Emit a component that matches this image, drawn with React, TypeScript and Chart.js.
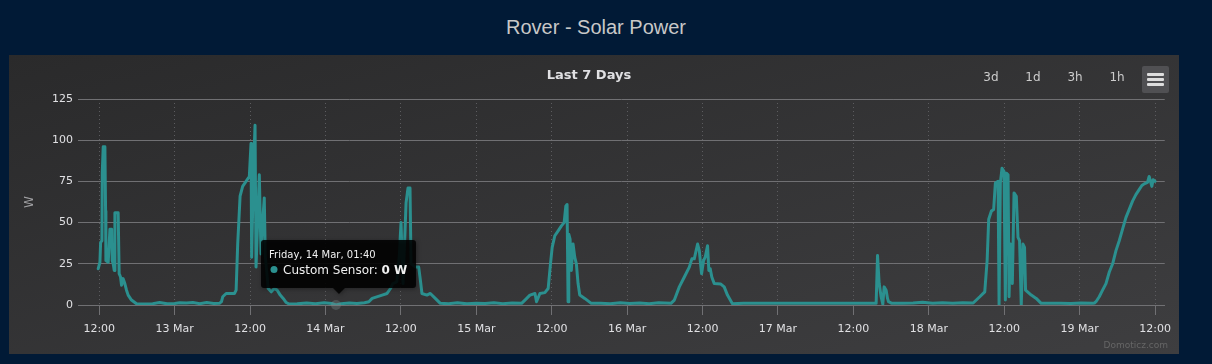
import React, { useEffect, useRef } from "react";
import { Chart, registerables } from "chart.js";

Chart.register(...registerables);

const pageTitle = "Rover - Solar Power";
const chartTitle = "Last 7 Days";
const seriesName = "Custom Sensor";
const unit = "W";
const rangeButtons = ["3d", "1d", "3h", "1h"];
const credits = "Domoticz.com";

// y axis
const yMin = 0;
const yMax = 125;
const yStep = 25;

// x axis: hours since 12 Mar 00:00
const xMin = 8.62;
const xMax = 181.54;
const xTickHours = [12, 24, 36, 48, 60, 72, 84, 96, 108, 120, 132, 144, 156, 168, 180];
const xTickLabels = [
  "12:00", "13 Mar", "12:00", "14 Mar", "12:00", "15 Mar", "12:00", "16 Mar",
  "12:00", "17 Mar", "12:00", "18 Mar", "12:00", "19 Mar", "12:00",
];

// hovered point shown in the tooltip
const hoverTime = 49.67;
const hoverLabel = "Friday, 14 Mar, 01:40";

// series: time (hours since 12 Mar 00:00) and power (W)
const timeHours = [
  // 12 Mar
  11.84, 12.11, 12.22, 12.43, 12.48, 12.63, 12.9, 13.01, 13.06, 13.43,
  13.7, 13.97, 14.06, 14.22, 14.38, 14.49, 15.01, 15.17, 15.39, 15.55,
  15.8, 16.07, 16.34, 16.6, 17.13, 17.93,
  19.0, 20.5, 21.6, 22.8, 24.0, 24.8, 25.9, 26.9, 28.0, 29.1, 30.2, 31.13,
  // 13 Mar
  31.45, 31.65, 32.19, 33.51, 33.78, 34.03, 34.41, 34.82, 35.36, 35.88,
  36.15, 36.25, 36.41, 36.57, 36.79, 36.95, 37.2, 37.47, 37.74, 37.99,
  38.26, 38.42, 38.66, 38.89, 39.37, 39.85, 40.32, 40.8, 41.27, 41.75,
  42.22,
  43.5, 45.0, 46.4, 47.8, 49.0, 49.67, 50.5, 51.8, 53.0, 54.2,
  // 14 Mar
  54.9, 55.43, 57.01, 57.8, 58.34, 58.71, 59.34, 59.74, 60.02, 60.18,
  60.34, 60.61, 60.82, 61.13, 61.45, 61.61, 62.31, 62.83, 63.1, 63.35,
  64.14, 64.68, 65.47, 66.27,
  67.6, 69.0, 70.5, 72.0, 73.4, 74.8, 76.2, 77.7, 79.2,
  // 15 Mar
  79.74, 80.53, 81.33, 81.58, 82.12, 82.91, 83.43, 83.8, 84.07, 84.49,
  85.02, 85.54, 85.97, 86.24, 86.44, 86.6, 86.71, 86.92, 87.12, 87.39,
  87.66, 87.92, 88.19, 88.46, 89.25, 90.29,
  91.8, 93.3, 94.9, 96.4, 98.0, 99.5, 101.0, 102.97,
  // 16 Mar
  103.51, 104.3, 105.1, 105.89, 106.3, 106.68, 107.21, 107.48, 107.84, 108.16,
  108.42, 108.79, 109.0, 109.22, 109.47, 109.85, 110.9, 111.44, 111.96, 112.75,
  114.5, 116.5, 118.5, 120.5, 122.5, 124.5, 126.5, 128.5, 130.5, 132.5, 134.5, 135.62,
  // 17 Mar
  135.73, 135.84, 136.1, 136.41, 136.68, 136.89, 137.21, 137.43, 137.59, 138.12,
  139.8, 141.5, 143.0, 144.6, 146.2, 147.8, 149.4, 151.06,
  // 18 Mar
  152.11, 152.9, 153.28, 153.53, 153.96, 154.32, 154.59, 155.02, 155.18, 155.38,
  155.65, 155.97, 156.18, 156.34, 156.61, 156.77, 156.97, 157.29, 157.56, 157.92,
  158.19, 158.44, 158.71, 158.98, 159.23, 159.39, 160.3, 161.09, 161.88,
  163.5, 165.0, 166.6, 168.2, 170.08,
  // 19 Mar
  170.35, 170.6, 171.12, 171.65, 172.19, 172.72, 173.25, 173.78, 174.3, 174.83,
  175.36, 175.89, 176.42, 176.95, 177.47, 177.9, 178.27, 178.8, 179.06, 179.49,
  179.69, 180.0,
];

const watts = [
  // 12 Mar
  22, 26, 38, 39, 80, 96, 96, 57, 27, 26,
  46, 46, 27, 25, 21, 56, 56, 19, 17, 12,
  16, 13, 9, 6, 3, 0.8,
  0.6, 0.8, 1.5, 0.7, 0.9, 1.4, 1.2, 1.5, 0.8, 1.5, 0.9, 1.0,
  // 13 Mar
  2, 5, 7, 7, 9, 37, 66, 72, 75, 78,
  98, 29, 58, 85, 109, 23, 50, 79, 31, 50,
  65, 30, 20, 10, 8, 10, 9, 6, 4, 1.5,
  0.6,
  0.7, 1.2, 0.8, 1.3, 0.9, 0, 0.8, 1.2, 0.9, 1.4,
  // 14 Mar
  2, 4, 6, 7, 10, 13, 14, 30, 50, 30,
  13, 40, 62, 71, 71, 25, 23, 23, 15, 7,
  6, 7, 4, 1,
  0.8, 1.3, 0.7, 1.1, 0.9, 1.4, 0.8, 1.2, 1.0,
  // 15 Mar
  3, 6, 7, 2, 7, 7.5, 10, 25, 35, 42,
  45, 48, 50, 60, 61, 2, 43, 40, 21, 37,
  29, 25, 13, 6, 4, 1,
  1.1, 0.8, 1.3, 0.9, 1.2, 0.8, 1.3, 1.0,
  // 16 Mar
  3, 11, 17, 23, 28, 28, 37, 33, 19, 27,
  29, 36, 21, 22, 17, 13, 12.7, 11, 6, 0.8,
  1.0, 1.0, 1.0, 1.0, 1.0, 1.0, 1.0, 1.0, 1.0, 1.0, 1.0, 1.0,
  // 17 Mar
  1, 30, 13, 5, 0.5, 11, 9, 4, 2, 1,
  1.0, 1.2, 1.6, 1.0, 1.3, 1.1, 1.4, 1.2,
  // 18 Mar
  5, 8, 27, 52, 57, 58, 74, 75, 0, 74,
  83, 81, 3, 80, 79, 5, 37, 13, 68, 66,
  41, 39, 0, 37, 35, 9, 6, 4, 1,
  1.0, 1.1, 0.9, 1.2, 1.0,
  // 19 Mar
  1.2, 2, 5, 9, 13, 20, 25, 33, 39, 46,
  53, 58, 63, 67, 70, 72.5, 73.5, 74.4, 78, 72,
  76, 75,
];

const lineColor = "#2b908f";
const axisLineColor = "#707073";
const labelColor = "#E0E0E3";
const font = "'DejaVu Sans', Verdana, sans-serif";

export default function App() {
  const canvasRef = useRef<HTMLCanvasElement | null>(null);

  useEffect(() => {
    const canvas = canvasRef.current;
    if (!canvas) return;

    const overlayPlugin = {
      id: "overlay",
      afterDatasetsDraw(chart: any) {
        const c = chart.ctx as CanvasRenderingContext2D;
        const idx = timeHours.indexOf(hoverTime);
        const pt = chart.getDatasetMeta(0).data[idx];
        const px = pt.x;
        const py = pt.y;
        c.save();
        // hover halo
        c.beginPath();
        c.arc(px, py, 5, 0, Math.PI * 2);
        c.fillStyle = "rgba(120,140,140,0.35)";
        c.fill();

        // tooltip box
        const bw = 155;
        const bh = 48;
        const r = 3;
        const bx = Math.round(px - 75);
        const by = Math.round(py - 17 - bh);
        const cx = px + 3;
        c.shadowColor = "rgba(0,0,0,0.4)";
        c.shadowBlur = 4;
        c.shadowOffsetX = 1;
        c.shadowOffsetY = 1;
        c.fillStyle = "rgba(0,0,0,0.85)";
        c.beginPath();
        c.moveTo(bx + r, by);
        c.lineTo(bx + bw - r, by);
        c.arcTo(bx + bw, by, bx + bw, by + r, r);
        c.lineTo(bx + bw, by + bh - r);
        c.arcTo(bx + bw, by + bh, bx + bw - r, by + bh, r);
        c.lineTo(cx + 6, by + bh);
        c.lineTo(cx, by + bh + 6);
        c.lineTo(cx - 6, by + bh);
        c.lineTo(bx + r, by + bh);
        c.arcTo(bx, by + bh, bx, by + bh - r, r);
        c.lineTo(bx, by + r);
        c.arcTo(bx, by, bx + r, by, r);
        c.closePath();
        c.fill();
        c.shadowColor = "transparent";
        c.shadowBlur = 0;
        c.shadowOffsetX = 0;
        c.shadowOffsetY = 0;

        c.textAlign = "left";
        c.textBaseline = "alphabetic";
        c.fillStyle = "#F0F0F0";
        c.font = `10px ${font}`;
        c.fillText(hoverLabel, bx + 8, by + 17.5);

        c.beginPath();
        c.arc(bx + 13, by + 29.5, 3.5, 0, Math.PI * 2);
        c.fillStyle = lineColor;
        c.fill();

        c.fillStyle = "#F0F0F0";
        c.font = `12px ${font}`;
        const lbl = `${seriesName}: `;
        c.fillText(lbl, bx + 22, by + 33.5);
        const lw = c.measureText(lbl).width;
        c.font = `bold 12px ${font}`;
        c.fillText(`${watts[idx]} ${unit}`, bx + 22 + lw, by + 33.5);

        // credits
        c.font = `9px ${font}`;
        c.fillStyle = "#666";
        c.textAlign = "right";
        c.textBaseline = "middle";
        c.fillText(credits, chart.width - 11, chart.height - 8);
        c.restore();
      },
    };

    const chart = new Chart(canvas, {
      type: "line",
      data: {
        datasets: [
          {
            label: seriesName,
            data: timeHours.map((t, i) => ({ x: t, y: watts[i] })),
            borderColor: lineColor,
            backgroundColor: lineColor,
            borderWidth: 3,
            pointRadius: 0,
            tension: 0,
            borderJoinStyle: "round",
            borderCapStyle: "round",
          },
        ],
      },
      options: {
        responsive: false,
        animation: false,
        events: [],
        layout: { padding: { left: 0, right: 10, top: 0, bottom: 0 } },
        plugins: {
          legend: { display: false },
          tooltip: { enabled: false },
          title: {
            display: true,
            text: chartTitle,
            color: labelColor,
            font: { family: font, size: 13, weight: "bold", lineHeight: 1.2 },
            padding: { top: 13, bottom: 15.4 },
          },
        },
        scales: {
          x: {
            type: "linear",
            min: xMin,
            max: xMax,
            afterBuildTicks: (scale: any) => {
              scale.ticks = xTickHours.map((v) => ({ value: v }));
            },
            afterFit: (scale: any) => {
              scale.height = 49;
            },
            ticks: {
              color: labelColor,
              font: { family: font, size: 11 },
              padding: 8,
              maxRotation: 0,
              autoSkip: false,
              callback: (value: any) => {
                const i = xTickHours.indexOf(Number(value));
                return i >= 0 ? xTickLabels[i] : "";
              },
            },
            grid: {
              color: "#5c5c5f",
              lineWidth: 1,
              drawTicks: true,
              tickLength: 10,
              tickColor: axisLineColor,
              tickWidth: 1,
            },
            border: { display: true, color: axisLineColor, width: 1, dash: [1, 3] },
          },
          y: {
            min: yMin,
            max: yMax,
            afterFit: (scale: any) => {
              scale.width = 69;
            },
            ticks: {
              stepSize: yStep,
              color: labelColor,
              font: { family: font, size: 11 },
              padding: 5,
            },
            grid: { color: axisLineColor, lineWidth: 1, drawTicks: false },
            border: { display: false },
            title: {
              display: true,
              text: unit,
              color: "#A0A0A3",
              font: { family: font, size: 12 },
              padding: { top: 14, bottom: 0 },
            },
          },
        },
      },
      plugins: [overlayPlugin],
    } as any);

    return () => chart.destroy();
  }, []);

  const buttonX = [991, 1033, 1075, 1117];

  return (
    <div
      style={{
        position: "absolute",
        left: 0,
        top: 0,
        width: 1212,
        height: 364,
        background: "#011a36",
        overflow: "hidden",
      }}
    >
      <div
        style={{
          position: "absolute",
          left: 0,
          top: 15,
          width: 1192,
          textAlign: "center",
          fontFamily: "'Liberation Sans', Arial, sans-serif",
          fontSize: 20,
          lineHeight: "24px",
          color: "#c8c8c8",
        }}
      >
        {pageTitle}
      </div>
      <div
        style={{
          position: "absolute",
          left: 9,
          top: 55,
          width: 1170,
          height: 299,
          background: "linear-gradient(to bottom right, #2a2a2b, #3e3e40)",
        }}
      >
        <canvas ref={canvasRef} width={1170} height={299} style={{ display: "block" }} />
        {rangeButtons.map((b, i) => (
          <div
            key={b}
            style={{
              position: "absolute",
              left: buttonX[i] - 9 - 15,
              top: 15,
              width: 30,
              textAlign: "center",
              fontFamily: font,
              fontSize: 12,
              lineHeight: "14px",
              color: "#cccccc",
            }}
          >
            {b}
          </div>
        ))}
        <div
          style={{
            position: "absolute",
            left: 1142 - 9,
            top: 66 - 55,
            width: 27,
            height: 27,
            background: "#505053",
            borderRadius: 2,
          }}
        >
          {[7, 12, 17].map((t) => (
            <div
              key={t}
              style={{
                position: "absolute",
                left: 5,
                top: t,
                width: 17,
                height: 3,
                background: "#dddddd",
                borderRadius: 1,
              }}
            />
          ))}
        </div>
      </div>
    </div>
  );
}
